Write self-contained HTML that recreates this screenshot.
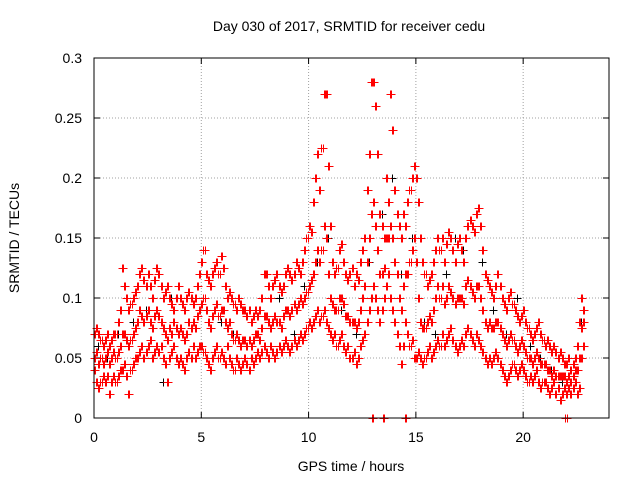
<!DOCTYPE html>
<html><head><meta charset="utf-8"><style>
html,body{margin:0;padding:0;background:#fff;}
svg{display:block;font-family:"Liberation Sans",sans-serif;}
</style></head><body>
<svg id="chart" width="640" height="480" viewBox="0 0 640 480">
<rect width="640" height="480" fill="#fff"/>
<text x="349" y="31" font-size="14" text-anchor="middle">Day 030 of 2017, SRMTID for receiver cedu</text>
<text transform="translate(19,238) rotate(-90)" font-size="14" text-anchor="middle">SRMTID / TECUs</text>
<text x="351" y="471" font-size="14" text-anchor="middle">GPS time / hours</text>
<g id="grid"></g>
<g id="ticks"></g>
<g id="blackPts" shape-rendering="crispEdges"></g>
<g id="redPts" shape-rendering="crispEdges"></g>
<rect x="94" y="58" width="515" height="360" fill="none" stroke="#000" stroke-width="1"/>
</svg>
<script>
const xTicks=[0,5,10,15,20];
const yTicks=[0,0.05,0.1,0.15,0.2,0.25,0.3];
const yTickLabels=["0","0.05","0.1","0.15","0.2","0.25","0.3"];
const tStart=0, tStep=0.1;
const redHi=[.07,.075,.07,.065,.06,.065,.07,.06,.065,.07,
.07,.08,.09,.125,.11,.1,.09,.095,.1,.105,
.11,.12,.125,.115,.11,.12,.11,.1,.115,.125,
.12,.11,.1,.105,.11,.1,.095,.09,.1,.11,
.1,.095,.09,.1,.105,.1,.095,.1,.11,.12,
.13,.14,.12,.115,.11,.12,.125,.13,.12,.135,
.125,.11,.1,.105,.1,.095,.09,.1,.095,.09,
.09,.085,.09,.08,.085,.09,.085,.09,.1,.12,
.12,.11,.1,.11,.115,.12,.11,.105,.11,.12,
.125,.12,.115,.12,.13,.125,.12,.13,.14,.15,
.16,.155,.18,.2,.22,.19,.225,.27,.27,.21,
.16,.13,.12,.125,.14,.145,.13,.12,.115,.12,
.125,.11,.12,.115,.13,.14,.15,.19,.22,.28,
.28,.26,.22,.17,.16,.15,.2,.18,.27,.24,
.19,.17,.16,.15,.17,.16,.18,.19,.2,.21,
.2,.18,.15,.13,.12,.11,.115,.12,.13,.14,
.15,.14,.15,.13,.145,.155,.15,.14,.13,.145,
.15,.14,.13,.15,.16,.165,.16,.155,.17,.175,
.16,.14,.12,.115,.11,.105,.1,.11,.12,.11,
.1,.095,.09,.1,.105,.095,.09,.085,.08,.085,
.09,.08,.075,.07,.065,.07,.075,.08,.07,.065,
.06,.065,.06,.055,.06,.055,.05,.055,.05,.045,
.045,.05,.04,.045,.05,.06,.08,.1,.09];
const redMid=[.05,.055,.045,.05,.045,.05,.055,.045,.05,.055,
.05,.055,.06,.07,.07,.065,.06,.065,.07,.075,
.08,.09,.085,.08,.085,.09,.08,.075,.085,.09,
.085,.08,.075,.07,.065,.075,.07,.08,.075,.07,
.075,.07,.065,.07,.08,.075,.08,.075,.085,.09,
.095,.1,.09,.08,.075,.085,.09,.095,.085,.09,
.09,.08,.075,.08,.07,.065,.07,.065,.06,.065,
.065,.06,.065,.06,.065,.07,.07,.065,.075,.085,
.085,.08,.075,.08,.085,.08,.08,.075,.085,.09,
.09,.085,.09,.095,.09,.095,.1,.095,.1,.105,
.11,.115,.12,.13,.14,.13,.14,.16,.15,.12,
.1,.095,.09,.09,.1,.1,.095,.085,.085,.08,
.08,.08,.075,.08,.09,.1,.11,.13,.15,.17,
.18,.16,.14,.12,.12,.125,.15,.15,.16,.15,
.13,.12,.1,.09,.11,.12,.12,.13,.14,.15,
.13,.1,.08,.075,.075,.08,.085,.08,.09,.1,
.11,.1,.11,.095,.1,.11,.105,.1,.095,.1,
.1,.1,.095,.11,.115,.11,.105,.1,.11,.11,
.1,.09,.08,.075,.08,.075,.075,.08,.08,.075,
.07,.065,.06,.065,.07,.065,.06,.055,.06,.065,
.06,.055,.05,.05,.045,.05,.055,.05,.045,.045,
.045,.04,.04,.035,.04,.035,.035,.035,.035,.035,
.03,.035,.03,.035,.04,.04,.05,.075,.08];
const redLo=[.04,.03,.025,.03,.035,.03,.035,.02,.03,.035,
.03,.035,.04,.04,.045,.035,.02,.04,.045,.05,
.05,.055,.06,.05,.055,.06,.065,.05,.055,.06,
.055,.06,.05,.045,.03,.05,.055,.06,.05,.045,
.05,.045,.04,.05,.055,.05,.06,.05,.055,.06,
.06,.055,.05,.045,.04,.05,.055,.06,.05,.055,
.05,.045,.06,.05,.045,.04,.05,.045,.04,.045,
.05,.045,.04,.05,.045,.05,.055,.05,.055,.06,
.055,.05,.06,.055,.05,.055,.06,.055,.06,.065,
.06,.055,.06,.065,.06,.065,.07,.065,.07,.075,
.08,.075,.08,.085,.09,.08,.085,.09,.08,.075,
.07,.065,.07,.06,.065,.07,.06,.055,.06,.05,
.05,.055,.045,.05,.06,.065,.07,.08,.09,.1,
.11,.1,.09,.08,.09,.1,.11,.12,.1,.09,
.08,.07,.06,.045,.06,.08,.07,.06,.065,.05,
.05,.055,.05,.045,.05,.055,.06,.05,.055,.06,
.065,.06,.07,.06,.065,.07,.075,.065,.06,.055,
.06,.065,.06,.07,.075,.07,.065,.06,.07,.065,
.06,.055,.05,.045,.05,.045,.05,.055,.05,.045,
.04,.035,.03,.035,.04,.045,.04,.035,.04,.045,
.04,.035,.03,.035,.03,.035,.04,.03,.025,.03,
.03,.025,.02,.025,.03,.02,.025,.015,.02,.025,
.02,.025,.02,.025,.03,.02,.025,.05,.06];
const zeroTimes=[12.95,13.0,13.45,13.5,14.5,14.55,21.95,22.05];
const blackT=[0.2,0.6,1.1,1.8,2.4,3.2,3.6,4.3,5.2,5.9,6.5,7.3,8.1,8.6,9.3,9.8,10.4,10.9,11.5,12.2,12.8,13.4,13.9,14.3,14.8,15.4,15.9,16.4,16.8,17.2,17.6,18.1,18.6,19.2,19.7,20.3,20.8,21.3,21.8,22.5,22.7];
const blackV=[.06,.05,.07,.08,.09,.03,.1,.07,.09,.08,.07,.06,.08,.1,.07,.11,.13,.15,.09,.07,.13,.17,.2,.12,.15,.08,.07,.12,.15,.14,.16,.13,.09,.07,.1,.06,.05,.04,.03,.06,.08];

const X0=94,X1=609,Y0=418,Y1=58,XMAX=24,YMAX=0.3;
const xs=t=>X0+(X1-X0)*t/XMAX;
const ys=v=>Y0-(Y0-Y1)*v/YMAX;
const NS="http://www.w3.org/2000/svg";
function mk(tag,attrs,parent){const e=document.createElementNS(NS,tag);for(const k in attrs)e.setAttribute(k,attrs[k]);parent.appendChild(e);return e;}
const grid=document.getElementById('grid'),ticks=document.getElementById('ticks');
yTicks.forEach((v,i)=>{
  const y=ys(v);
  if(i>0&&i<yTicks.length-1){const g=mk('line',{x1:X0,x2:X1,y1:y,y2:y,stroke:'#a0a0a0','stroke-dasharray':'1,2'},grid);
  
  }
  mk('line',{x1:X0,x2:X0+6,y1:y,y2:y,stroke:'#000'},ticks);
  mk('line',{x1:X1,x2:X1-6,y1:y,y2:y,stroke:'#000'},ticks);
  const t=mk('text',{x:82,y:y+5,'font-size':14,'text-anchor':'end'},ticks);t.textContent=yTickLabels[i];
  
  
});
xTicks.forEach(v=>{
  const x=xs(v);
  if(v>0){const g=mk('line',{x1:x,x2:x,y1:Y0,y2:Y1,stroke:'#a0a0a0','stroke-dasharray':'1,2'},grid);
  
  }
  mk('line',{x1:x,x2:x,y1:Y0,y2:Y0-6,stroke:'#000'},ticks);
  mk('line',{x1:x,x2:x,y1:Y1,y2:Y1+6,stroke:'#000'},ticks);
  const t=mk('text',{x:x,y:442,'font-size':14,'text-anchor':'middle'},ticks);t.textContent=String(v);
  
  
});
function plus(g,t,v,color){
  const x=Math.round(xs(t))+0.5,y=Math.round(ys(v))+0.5;
  const p=mk('path',{d:`M${x-4},${y}H${x+4}M${x},${y-4}V${y+4}`,stroke:color,'stroke-width':1,fill:'none'},g);
  
  
}
const bg=document.getElementById('blackPts'),rg=document.getElementById('redPts');
blackT.forEach((t,i)=>plus(bg,t,blackV[i],'#000'));
[redLo,redMid,redHi].forEach(arr=>arr.forEach((v,i)=>{plus(rg,tStart+i*tStep,v,'#ff0000');plus(rg,tStart+i*tStep+0.05,v,'#ff0000');}));
zeroTimes.forEach(t=>plus(rg,t,0,'#ff0000'));
</script>
</body></html>
